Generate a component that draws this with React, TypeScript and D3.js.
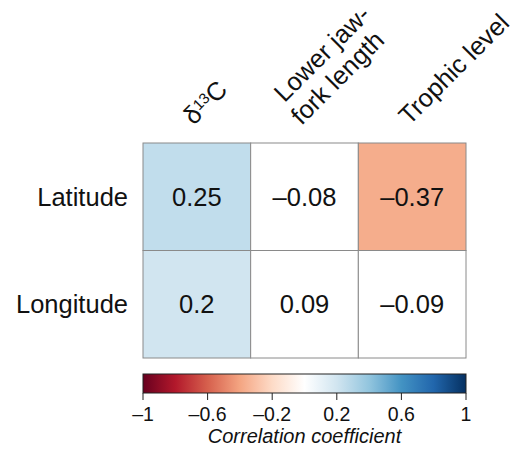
import React from "react";
import * as d3 from "d3";

const rowLabels = ["Latitude", "Longitude"];
const colLabels = [["δ", "13", "C"], ["Lower jaw-", "fork length"], ["Trophic level"]];
const values = [
  [0.25, -0.08, -0.37],
  [0.2, 0.09, -0.09],
];
const significant = [
  [true, false, true],
  [true, false, false],
];
const paletteColors = ["#67001F", "#B2182B", "#D6604D", "#F4A582", "#FDDBC7", "#FFFFFF", "#D1E5F0", "#92C5DE", "#4393C3", "#2166AC", "#053061"];
const legendTicks = [-1, -0.6, -0.2, 0.2, 0.6, 1];

const fmt = (v: number) => {
  const s = String(Math.abs(v));
  return (v < 0 ? "\u2013" : "") + s;
};

export default function App() {
  const W = 520, H = 454;
  const gx0 = 143, gx1 = 466, gy0 = 143, gy1 = 358;
  const x = d3.scaleBand<number>().domain(d3.range(3)).range([gx0, gx1]);
  const y = d3.scaleBand<number>().domain(d3.range(2)).range([gy0, gy1]);
  const color = d3.scaleLinear<string>()
    .domain(d3.range(11).map((i) => -1 + i * 0.2))
    .range(paletteColors)
    .interpolate(d3.interpolateRgb);
  const lx = d3.scaleLinear().domain([-1, 1]).range([143, 466]);
  const ly0 = 374, ly1 = 393;
  const font = "Liberation Sans, Arial, Helvetica, sans-serif";
  const stops = d3.range(0, 1.0001, 0.05);
  const fs = 25.5;

  return (
    <svg width={W} height={H} style={{ display: "block", position: "absolute", left: 0, top: 0 }} fontFamily={font}>
      <defs>
        <linearGradient id="cbar" x1="0" x2="1" y1="0" y2="0">
          {stops.map((t, i) => (
            <stop key={i} offset={t} stopColor={color(-1 + 2 * t)} />
          ))}
        </linearGradient>
      </defs>
      <rect width={W} height={H} fill="#fff" />
      {values.map((row, r) =>
        row.map((v, c) => (
          <g key={`${r}-${c}`}>
            <rect
              x={x(c)}
              y={y(r)}
              width={x.bandwidth()}
              height={y.bandwidth()}
              fill={significant[r][c] ? color(v) : "#fff"}
              stroke="#8a8a8a"
              strokeWidth={1}
            />
            <text
              x={(x(c) as number) + x.bandwidth() / 2}
              y={(y(r) as number) + y.bandwidth() / 2 + 9}
              textAnchor="middle"
              fontSize={fs}
              fill="#111"
            >
              {fmt(v)}
            </text>
          </g>
        ))
      )}
      {rowLabels.map((l, r) => (
        <text key={l} x={128} y={(y(r) as number) + y.bandwidth() / 2 + 9} textAnchor="end" fontSize={fs} fill="#111">
          {l}
        </text>
      ))}
      {colLabels.map((lab, c) => {
        const cx = (x(c) as number) + x.bandwidth() / 2 - 3;
        const cy = 126;
        if (c === 0) {
          return (
            <text key={c} transform={`translate(${cx},${cy}) rotate(-45)`} fontSize={fs} fill="#111">
              <tspan>{lab[0]}</tspan>
              <tspan fontSize={15} dy={-7}>{lab[1]}</tspan>
              <tspan dy={7}>{lab[2]}</tspan>
            </text>
          );
        }
        return (
          <text key={c} transform={`translate(${cx},${cy}) rotate(-45)`} fontSize={fs} fill="#111">
            {lab.map((s, i) => (
              <tspan key={i} x={i === 0 && lab.length > 1 ? 4 : 0} y={-(lab.length - 1 - i) * 28}>
                {s}
              </tspan>
            ))}
          </text>
        );
      })}
      <rect x={lx(-1)} y={ly0} width={lx(1) - lx(-1)} height={ly1 - ly0} fill="url(#cbar)" stroke="#222" strokeWidth={1} />
      {legendTicks.map((t) => (
        <g key={t}>
          <line x1={lx(t)} x2={lx(t)} y1={ly1} y2={ly1 + 7} stroke="#222" strokeWidth={1} />
          <text x={lx(t)} y={421} textAnchor="middle" fontSize={19.5} fill="#111">
            {fmt(t)}
          </text>
        </g>
      ))}
      <text x={(lx(-1) + lx(1)) / 2} y={443} textAnchor="middle" fontSize={20} fontStyle="italic" fill="#111">
        Correlation coefficient
      </text>
    </svg>
  );
}
